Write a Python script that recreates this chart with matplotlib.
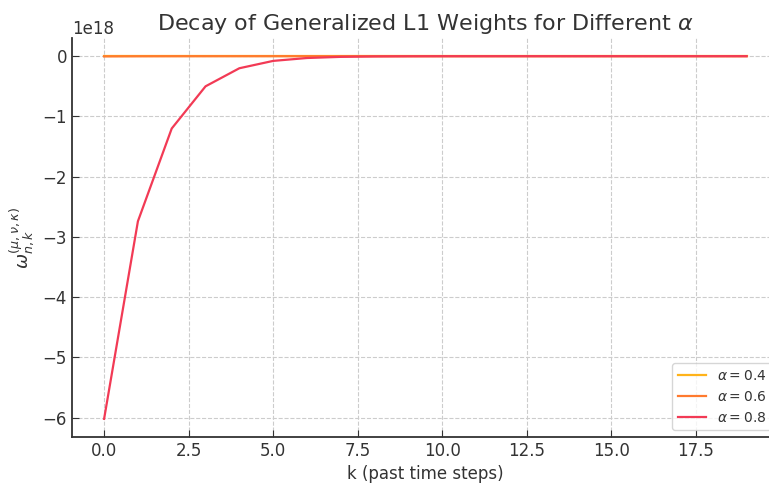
import numpy as np
import matplotlib.pyplot as plt

k = np.arange(20)
alphas = [0.4, 0.6, 0.8]
colors = ['#FFB31A', '#FF7A2E', '#F23A55']

# weights (units of 1e18); the 0.4 and 0.6 curves sit on zero at this scale
w_04 = [-2.1e-6, -9.5e-7, -4.2e-7, -1.9e-7, -8.4e-8, -3.7e-8, -1.7e-8, -7.4e-9, -3.3e-9, -1.5e-9,
        -6.5e-10, -2.9e-10, -1.3e-10, -5.7e-11, -2.5e-11, -1.1e-11, -5.0e-12, -2.2e-12, -9.9e-13, -4.4e-13]
w_06 = [-3.4e-3, -1.5e-3, -6.7e-4, -3.0e-4, -1.3e-4, -5.9e-5, -2.6e-5, -1.2e-5, -5.2e-6, -2.3e-6,
        -1.0e-6, -4.6e-7, -2.0e-7, -9.1e-8, -4.0e-8, -1.8e-8, -8.0e-9, -3.5e-9, -1.6e-9, -7.0e-10]
w_08 = [-6.02, -2.74, -1.20, -0.50, -0.20, -0.078, -0.03, -0.011, -0.004, -0.0015,
        -5e-4, -2e-4, -7e-5, -2.5e-5, -9e-6, -3e-6, -1e-6, -4e-7, -1.4e-7, -5e-8]
weights = [w_04, w_06, w_08]

plt.rcParams['text.color'] = '#333333'
plt.rcParams['axes.labelcolor'] = '#333333'
plt.rcParams['xtick.color'] = '#333333'
plt.rcParams['ytick.color'] = '#333333'

fig = plt.figure(figsize=(7.69, 4.83), dpi=100)
ax = fig.add_axes([0.0936, 0.0952, 0.919, 0.826])

for a, w, c in zip(alphas, weights, colors):
    ax.plot(k, np.array(w) * 1e18, color=c, linewidth=1.6, label=rf'$\alpha = {a}$')

ax.set_title(r'Decay of Generalized L1 Weights for Different $\alpha$', fontsize=16, pad=6)
ax.set_xlabel('k (past time steps)', fontsize=12)
ax.set_ylabel(r'$\omega_{n,k}^{(\mu,\nu,\kappa)}$', fontsize=13)
ax.tick_params(direction='in', labelsize=12, length=5)
ax.grid(True, linestyle='--', color='#cccccc', linewidth=0.8)
ax.spines['top'].set_visible(False)
ax.spines['right'].set_visible(False)
ax.spines['left'].set_color('#333333')
ax.spines['bottom'].set_color('#333333')
ax.spines['left'].set_linewidth(1.3)
ax.spines['bottom'].set_linewidth(1.3)
ax.yaxis.get_offset_text().set_fontsize(12)
ax.legend(loc='lower right', fontsize=10)

plt.savefig('out.png', dpi=100)
